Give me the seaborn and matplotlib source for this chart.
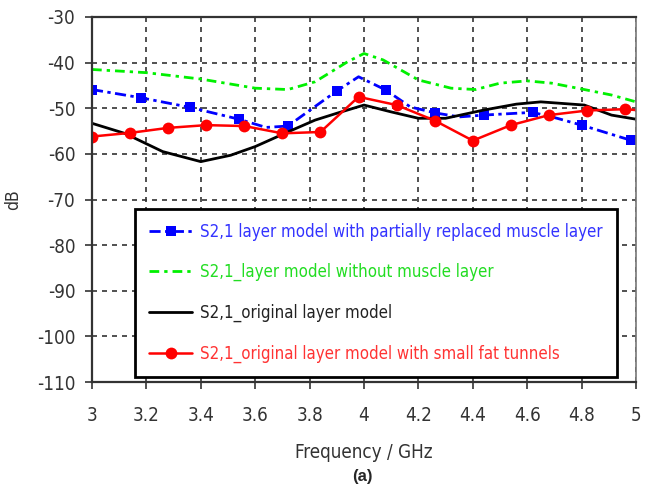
import matplotlib
matplotlib.use("Agg")
import matplotlib.pyplot as plt
import matplotlib.font_manager as fm
import seaborn as sns

# S2,1 transmission curves, frequency in GHz, magnitude in dB
blue_f = [3.00, 3.18, 3.36, 3.54, 3.64, 3.72, 3.90, 3.98, 4.08, 4.17, 4.26, 4.35, 4.44, 4.62, 4.71, 4.80, 4.98]
blue_db = [-45.9, -47.7, -49.8, -52.4, -54.2, -53.9, -46.2, -43.1, -46.0, -49.7, -51.0, -51.9, -51.5, -50.9, -52.2, -53.7, -57.0]
blue_marks = [0, 1, 2, 3, 5, 6, 8, 10, 12, 13, 15, 16]

green_f = [3.00, 3.20, 3.40, 3.60, 3.72, 3.82, 3.94, 4.00, 4.07, 4.20, 4.32, 4.41, 4.50, 4.60, 4.69, 4.81, 4.91, 5.00]
green_db = [-41.5, -42.2, -43.6, -45.6, -45.9, -44.2, -39.8, -38.0, -39.4, -43.8, -45.6, -45.9, -44.5, -44.0, -44.5, -45.9, -47.1, -48.6]

black_f = [3.00, 3.12, 3.26, 3.40, 3.51, 3.60, 3.72, 3.82, 3.90, 4.00, 4.10, 4.20, 4.30, 4.44, 4.56, 4.65, 4.81, 4.91, 5.00]
black_db = [-53.3, -55.5, -59.5, -61.7, -60.3, -58.4, -55.2, -52.6, -51.1, -49.3, -50.8, -52.2, -52.2, -50.4, -49.1, -48.6, -49.3, -51.5, -52.4]

red_f = [3.00, 3.14, 3.28, 3.42, 3.56, 3.70, 3.84, 3.98, 4.12, 4.26, 4.40, 4.54, 4.68, 4.82, 4.96, 5.00]
red_db = [-56.2, -55.4, -54.3, -53.7, -53.9, -55.5, -55.2, -47.5, -49.3, -52.7, -57.1, -53.7, -51.5, -50.5, -50.2, -50.4]
red_marks = list(range(15))

labels = [
    "S2,1 layer model with partially replaced muscle layer",
    "S2,1_layer model without muscle layer",
    "S2,1_original layer model",
    "S2,1_original layer model with small fat tunnels",
]
x_ticks = [3, 3.2, 3.4, 3.6, 3.8, 4, 4.2, 4.4, 4.6, 4.8, 5]
x_tick_labels = ["3", "3.2", "3.4", "3.6", "3.8", "4", "4.2", "4.4", "4.6", "4.8", "5"]
y_ticks = list(range(-110, -29, 10))

sns.set_style("ticks")

# pick a narrow sans face if one is available
entries = fm.fontManager.ttflist
if any(e.name == "DejaVu Sans" and e.stretch == "condensed" for e in entries):
    family, stretch, fsize, lsize = ["DejaVu Sans"], "condensed", 13.5, 12.1
elif any(e.name == "Liberation Sans Narrow" for e in entries):
    family, stretch, fsize, lsize = ["Liberation Sans Narrow"], "normal", 14, 13.2
else:
    family, stretch, fsize, lsize = ["Roboto", "DejaVu Sans"], "normal", 12, 11.2
plt.rcParams["font.family"] = family
plt.rcParams["font.stretch"] = stretch
plt.rcParams["axes.unicode_minus"] = False

fig = plt.figure(figsize=(6.53, 4.88), dpi=100)
ax = fig.add_axes([92 / 653, 1 - 382 / 488, 544 / 653, 365 / 488])

lw = 2.0
sns.lineplot(x=blue_f, y=blue_db, ax=ax, color="#0000ff", lw=lw, sort=False,
             linestyle=(0, (4, 1.6, 1.2, 1.6)), marker="s", markersize=7.5,
             markevery=blue_marks, markeredgewidth=0, label=labels[0])
sns.lineplot(x=green_f, y=green_db, ax=ax, color="#00f000", lw=lw, sort=False,
             linestyle=(0, (3.5, 1.8, 1.2, 1.8)), label=labels[1])
sns.lineplot(x=black_f, y=black_db, ax=ax, color="#000000", lw=lw, sort=False,
             label=labels[2])
sns.lineplot(x=red_f, y=red_db, ax=ax, color="#ff0000", lw=1.8, sort=False,
             marker="o", markersize=8.5, markevery=red_marks, markeredgewidth=0,
             label=labels[3])

ax.set_xlim(3, 5)
ax.set_ylim(-110, -30)
ax.set_xticks(x_ticks)
ax.set_xticklabels(x_tick_labels)
ax.set_yticks(y_ticks)

ax.grid(True, color="#333333", linestyle=(0, (3, 3)), linewidth=1.2)
ax.set_axisbelow(True)

for side in ["left", "bottom", "top"]:
    ax.spines[side].set_color("#333333")
    ax.spines[side].set_linewidth(1.6)
ax.spines["right"].set_color("#777777")
ax.spines["right"].set_linewidth(1.2)

ax.tick_params(axis="both", direction="out", length=5, width=1.2, color="#333333",
               labelsize=fsize, labelcolor="#333333")
ax.tick_params(axis="x", pad=12)
ax.tick_params(axis="y", pad=7)

ax.set_ylabel("dB", fontsize=fsize - 1, color="#333333")
ax.yaxis.set_label_coords(-0.128, 0.5)
ax.set_xlabel("Frequency / GHz", fontsize=fsize, color="#333333", labelpad=13)

leg = ax.legend(loc="lower left", bbox_to_anchor=(0.079, 0.0137), fontsize=lsize,
                frameon=True, fancybox=False, framealpha=1, edgecolor="black",
                borderpad=0.85, labelspacing=1.33, handlelength=2.55,
                handletextpad=0.45, borderaxespad=0,
                labelcolor=["#3333ff", "#22dd22", "#222222", "#ff3333"])
leg.get_frame().set_linewidth(2.0)

fig.text(362 / 653, 1 - 476 / 488, "(a)", ha="center", va="center",
         fontsize=12, fontweight="bold", family="Liberation Sans", stretch="normal")

fig.savefig("out.png", dpi=100)
